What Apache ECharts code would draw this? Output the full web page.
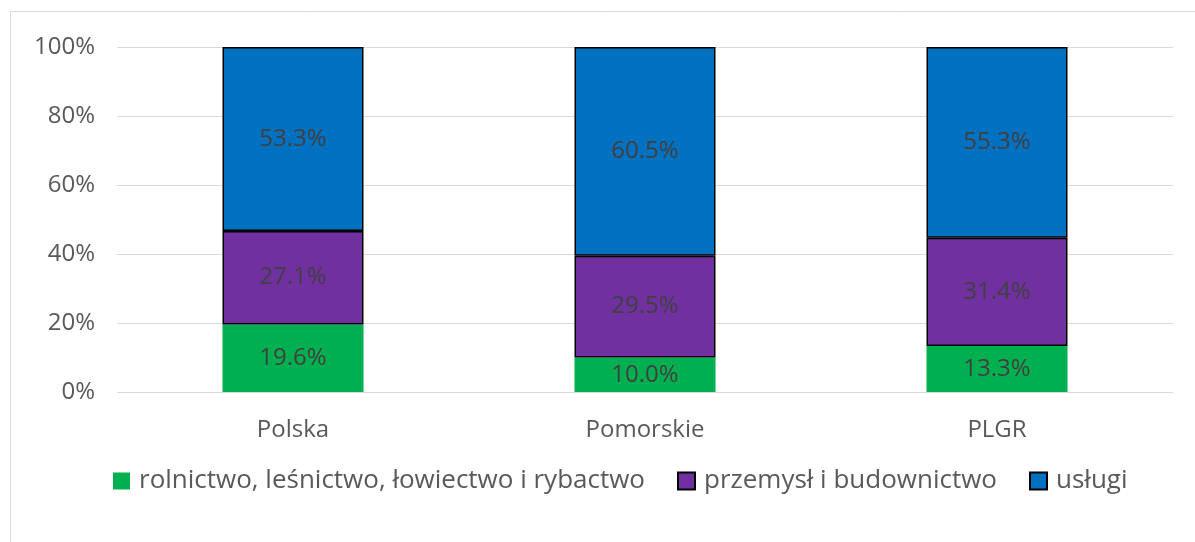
<!DOCTYPE html>
<html><head><meta charset="utf-8">
<script src="https://cdn.jsdelivr.net/npm/echarts@6/dist/echarts.min.js"></script>
<style>html,body{margin:0;padding:0;background:#fff}#c{width:1195px;height:542px}</style>
</head><body><div id="c"></div>
<script>
var categories = ['Polska', 'Pomorskie', 'PLGR'];
var seriesNames = ['rolnictwo, leśnictwo, łowiectwo i rybactwo', 'przemysł i budownictwo', 'usługi'];
var rolnictwo = [19.6, 10.0, 13.3];
var przemysl = [27.1, 29.5, 31.4];
var uslugi = [53.3, 60.5, 55.3];
var yTicks = [0, 20, 40, 60, 80, 100];

var chart = echarts.init(document.getElementById('c'), null, {renderer: 'canvas'});
var font = '"Open Sans", "Noto Sans", sans-serif';
var labelStyle = {show: true, position: 'inside', color: '#404040', fontSize: 24, fontFamily: font,
  formatter: function(p){ return p.value.toFixed(1) + '%'; }};
function mk(name, data, color, border) {
  return {
    name: name, type: 'bar', stack: 'a', data: data, barWidth: 141,
    itemStyle: {color: color, borderColor: border ? '#000' : color, borderWidth: border ? 1.5 : 0},
    label: labelStyle
  };
}
chart.setOption({
  animation: false,
  graphic: [{type: 'rect', shape: {x: 10.5, y: 11.5, width: 1200, height: 600},
    style: {fill: 'none', stroke: '#d9d9d9', lineWidth: 1}, z: -1}],
  grid: {left: 117, right: 22, top: 47, bottom: 150},
  xAxis: {type: 'category', data: categories,
    axisLine: {show: false}, axisTick: {show: false},
    axisLabel: {color: '#595959', fontSize: 24, fontFamily: font, margin: 26}},
  yAxis: {type: 'value', min: 0, max: 100, interval: 20,
    axisLine: {show: false}, axisTick: {show: false},
    splitLine: {lineStyle: {color: '#d9d9d9', width: 1}},
    axisLabel: {color: '#595959', fontSize: 24, fontFamily: font, margin: 22,
      formatter: function(v){ return yTicks.indexOf(v) >= 0 ? v + '%' : ''; }}},
  legend: {top: 463, left: 108, itemWidth: 17, itemHeight: 17, itemGap: 32,
    icon: 'rect',
    textStyle: {color: '#595959', fontSize: 26, fontFamily: font, padding: [0, 0, 0, 4]},
    data: seriesNames},
  series: [
    mk(seriesNames[0], rolnictwo, '#00b050', false),
    mk(seriesNames[1], przemysl, '#7030a0', true),
    mk(seriesNames[2], uslugi, '#0070c0', true)
  ]
});
</script></body></html>
